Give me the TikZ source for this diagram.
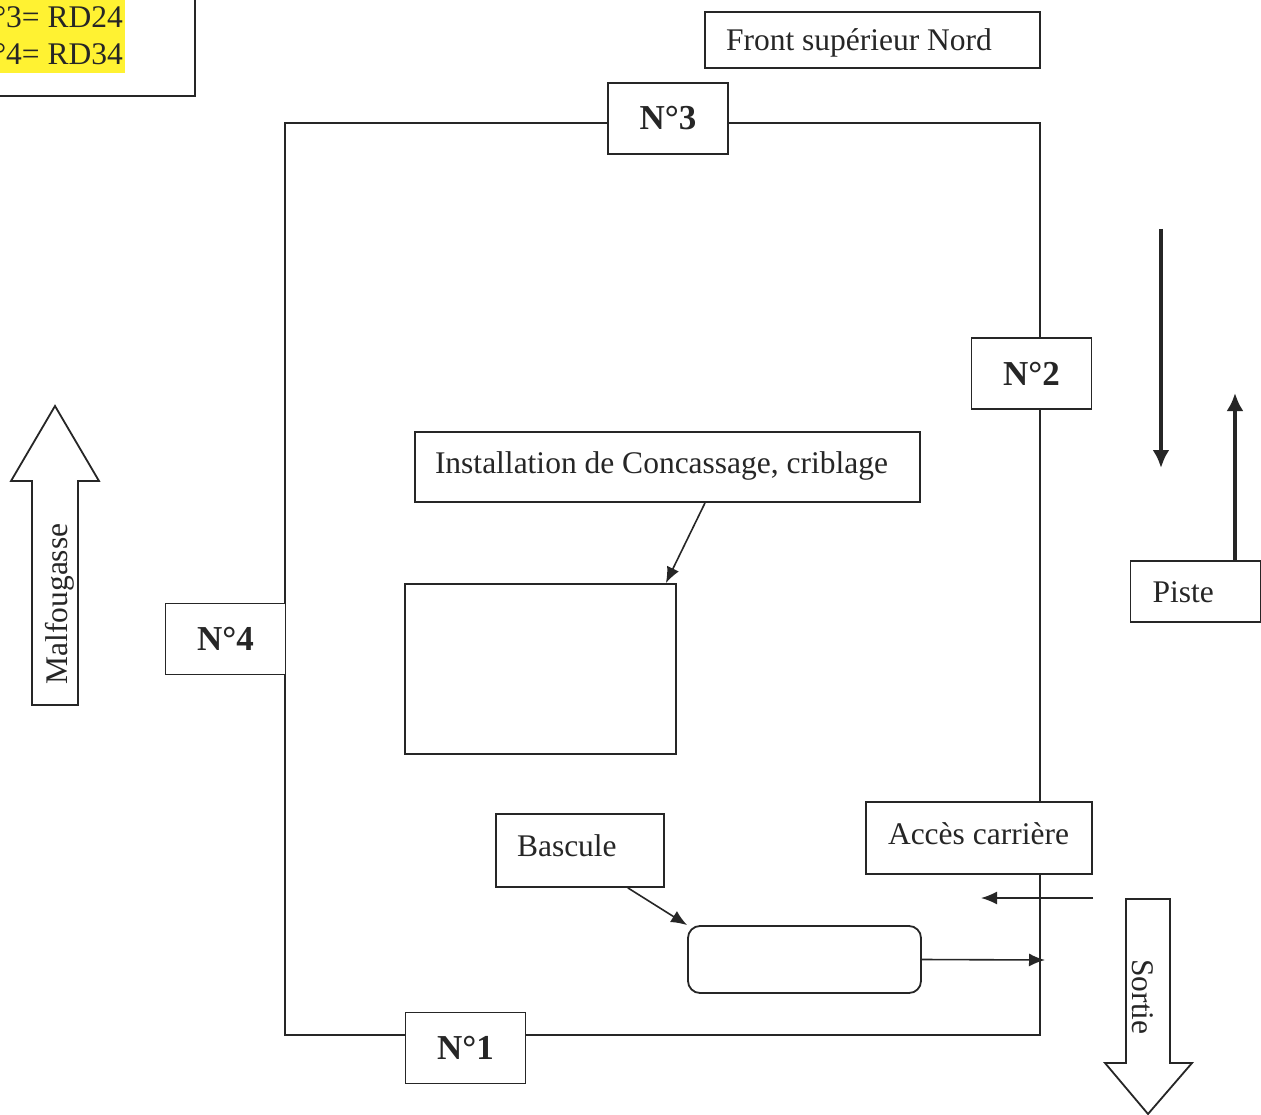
\documentclass[tikz,border=0pt]{standalone}
\usepackage{fontspec}
\setmainfont{Liberation Serif}
\usetikzlibrary{arrows.meta,calc}
\definecolor{ink}{RGB}{38,38,38}
\definecolor{hl}{RGB}{255,242,50}
\tikzset{
  box/.style={draw=ink, line width=1.8pt, fill=white, rectangle, inner sep=0pt, text=ink,
              font=\fontsize{31.5}{37}\selectfont},
  lbox/.style={box, align=flush left, text height=22pt, text depth=#1},
  lbox/.default=0pt,
  numbox/.style={box, minimum width=120pt, minimum height=71pt,
              font=\fontsize{35}{40}\selectfont\bfseries},
  wall/.style={draw=ink, line width=1.8pt},
  thinarrow/.style={draw=ink, line width=1.6pt, -{Latex[length=16pt,width=13pt]}},
  thickarrow/.style={draw=ink, line width=4pt, -{Latex[length=18pt,width=17pt]}},
  blockarrow/.style={draw=ink, line width=1.8pt, fill=white, line join=miter},
  txt/.style={text=ink, font=\fontsize{31.5}{37}\selectfont, inner sep=0pt},
  hltxt/.style={fill=hl, text=ink, font=\fontsize{31.5}{37}\selectfont, inner xsep=2pt,
              inner ysep=0pt, minimum height=37.5pt, anchor=east}
}
\begin{document}
\begin{tikzpicture}[x=1pt,y=-1pt]
\useasboundingbox (0,0) rectangle (1261,1115);
\clip (0,0) rectangle (1261,1115);
\fill[white] (0,0) rectangle (1261,1115);

% legend (cut off at top left, as in the reference)
\node[box, anchor=south east, minimum width=240pt, minimum height=130pt] (legend) at (196,97) {};
\node[hltxt] (l3) at (125,17) {N°3= RD24};
\node[hltxt] (l4) at (125,54.5) {N°4= RD34};

% enclosure
\coordinate (nw) at (285,123);
\coordinate (ne) at (1040,123);
\coordinate (se) at (1040,1035);
\coordinate (sw) at (285,1035);
\draw[wall] (nw) -- (ne) -- (se) -- (sw) -- cycle;

% boxes
\node[lbox, inner xsep=21pt, text width=293pt, minimum width=335pt, minimum height=56pt] (front) at (872.5,40) {Front supérieur Nord};
\node[numbox] (n3) at (668,118.5) {N°3};
\node[numbox] (n2) at (1031.5,373.5) {N°2};
\node[numbox] (n4) at (225.5,639) {N°4};
\node[numbox] (n1) at (465.5,1048) {N°1};
\node[lbox=10pt, inner xsep=20pt, text width=465pt, minimum width=505pt, minimum height=70pt] (inst) at (667.5,467) {Installation de Concassage, criblage};
\node[box, minimum width=271pt, minimum height=170pt] (crusher) at (540.5,669) {};
\node[lbox=11pt, inner xsep=21pt, text width=126pt, minimum width=168pt, minimum height=73pt] (bascule) at (580,850.5) {Bascule};
\node[box, rounded corners=12pt, minimum width=233pt, minimum height=67pt] (scale) at (804.5,959.5) {};
\node[lbox=10pt, inner xsep=22pt, text width=182pt, minimum width=226pt, minimum height=72pt] (acces) at (979,838) {Accès carrière};
\node[lbox, inner xsep=22pt, text width=86pt, minimum width=130pt, minimum height=61pt] (piste) at (1195.5,591.5) {Piste};

% connectors
\draw[thinarrow] ([xshift=37.5pt]inst.south) -- ([xshift=-11pt]crusher.north east);
\draw[thinarrow] ([xshift=-37pt]bascule.south east) -- (scale.north west);
\coordinate (exitpt) at (1045,960);
\draw[thinarrow] (scale.east) -- (exitpt);
\coordinate (entryfrom) at (1093,898);
\coordinate (entryto) at (981,898);
\draw[thinarrow] (entryfrom) -- (entryto);

% piste arrows
\coordinate (dtop) at (1161,229);
\coordinate (dbot) at (1161,468);
\draw[thickarrow] (dtop) -- (dbot);
\coordinate (utop) at (1235,393);
\draw[thickarrow] ([xshift=39.5pt]piste.north) -- (utop);

% block arrows
\draw[blockarrow] (32,705) -- (32,481) -- (11,481) -- (55,406) -- (99,481) -- (78,481) -- (78,705) -- cycle;
\node[txt, rotate=90] (malf) at (60,604) {Malfougasse};
\draw[blockarrow] (1126,899) -- (1170,899) -- (1170,1063) -- (1192,1063) -- (1148,1114) -- (1105,1063) -- (1126,1063) -- cycle;
\node[txt, rotate=-90] (sortie) at (1143,997) {Sortie};
\end{tikzpicture}
\end{document}
